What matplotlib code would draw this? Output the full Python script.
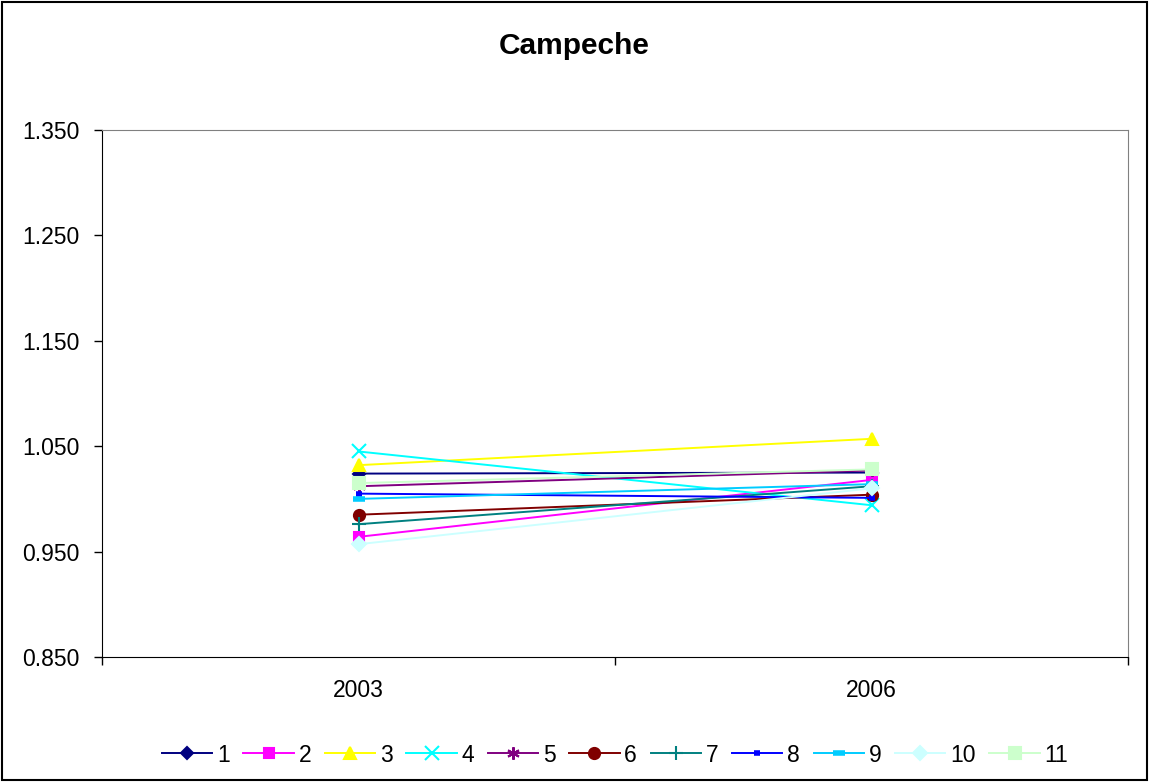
import matplotlib.pyplot as plt
from matplotlib.patches import Rectangle

plt.rcParams['font.family'] = ['Liberation Sans', 'DejaVu Sans']

years = ['2003', '2006']
series = ['1', '2', '3', '4', '5', '6', '7', '8', '9', '10', '11']
v2003 = [1.024, 0.964, 1.032, 1.045, 1.012, 0.985, 0.976, 1.005, 1.000, 0.957, 1.015]
v2006 = [1.025, 1.018, 1.057, 0.994, 1.027, 1.004, 1.012, 1.001, 1.014, 1.010, 1.028]

colors = ['#000080', '#FF00FF', '#FFFF00', '#00FFFF', '#800080', '#800000',
          '#008080', '#0000FF', '#00CCFF', '#CCFFFF', '#CCFFCC']
markers = ['D', 's', '^', 'x', (6, 2, 0), 'o', '+', '_', '_', 'D', 's']
msizes = [6, 7, 9, 10, 9, 8, 10, 5, 8, 7, 8]
mews = [1.5, 1.5, 1.5, 1.5, 1.5, 1.5, 1.5, 4, 4, 1.5, 1.5]

fig = plt.figure(figsize=(11.49, 7.82), dpi=100)
ax = fig.add_axes([102 / 1149, 1 - 657 / 782, (1128 - 102) / 1149, (657 - 130) / 782])

for i, name in enumerate(series):
    ax.plot([0, 1], [v2003[i], v2006[i]], color=colors[i], marker=markers[i],
            markersize=msizes[i], markeredgewidth=mews[i], linewidth=1.4, label=name)

ax.set_xlim(-0.5, 1.5)
ax.set_ylim(0.85, 1.35)
yt = [0.85, 0.95, 1.05, 1.15, 1.25, 1.35]
ax.set_yticks(yt)
ax.set_yticklabels(['%.3f' % t for t in yt], fontsize=16.5)
ax.set_xticks([-0.5, 0.5, 1.5])
ax.set_xticklabels([])
ax.set_xticks([0, 1], minor=True)
ax.set_xticklabels(years, minor=True, fontsize=16.5)
ax.tick_params(axis='x', which='minor', length=0, pad=16)
ax.tick_params(axis='both', which='major', direction='out', length=6, width=1)
ax.tick_params(axis='y', pad=10)
for s in ['top', 'right']:
    ax.spines[s].set_color('#808080')
for s in ['left', 'bottom']:
    ax.spines[s].set_color('black')

fig.text(0.5, 1 - 46 / 782, 'Campeche', ha='center', va='center', fontsize=21.5, fontweight='bold')

fig.legend(loc='center', bbox_to_anchor=(615 / 1149, 1 - 755 / 782), ncol=11, frameon=False,
           fontsize=16.5, handlelength=2.2, columnspacing=0.6, handletextpad=0.2)

fig.patches.append(Rectangle((0.002, 0.002), 0.996, 0.996, transform=fig.transFigure,
                             fill=False, edgecolor='black', linewidth=1.5))

fig.savefig('out.png', dpi=100)
